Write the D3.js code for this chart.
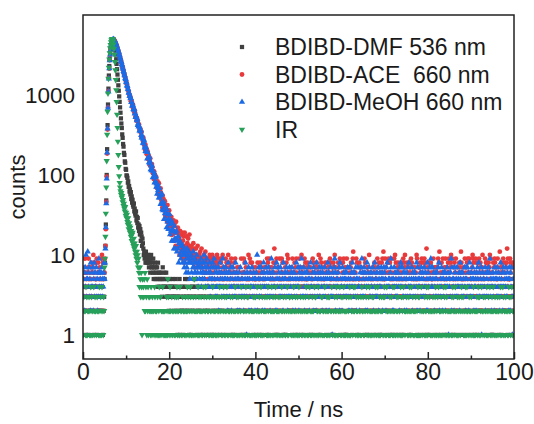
<!DOCTYPE html>
<html>
<head>
<meta charset="utf-8">
<script src="https://cdn.jsdelivr.net/npm/d3@7"></script>
<style>
  html, body { margin: 0; padding: 0; background: #fff; }
  svg text { font-family: "Liberation Sans", Arial, sans-serif; fill: #1a1a1a; }
</style>
</head>
<body>
<svg id="chart" width="534" height="424"></svg>
<script>
// channel width of the decay histograms (ns)
var timeStep = 0.1;

var xTicks = [0, 20, 40, 60, 80, 100];
var xMinorTicks = [10, 30, 50, 70, 90];
var yTicks = [1, 10, 100, 1000];
var seriesNames = ["BDIBD-DMF 536 nm", "BDIBD-ACE  660 nm", "BDIBD-MeOH 660 nm", "IR"];

// each curve: head = counts 0.0-4.9 ns, peak = counts from 5.0 ns, tail = rest (one base-36 digit per channel)
var dmfHead = "3245234132 4231352423 2342413524 3421532342 4232451323";
var dmfPeak = [
  5, 8, 13, 24, 48, 100, 210, 420, 760, 1200,
  1750, 2300, 2850, 3350, 3800, 4150, 4450, 4700, 4850, 4950,
  4950, 4850, 4650, 4350, 4000, 3600, 3200, 2800, 2450, 2100,
  1800, 1550, 1320, 1130, 960, 820, 700, 600, 510, 440,
  386, 322, 291, 244, 226, 189, 178, 148, 142, 119,
  116, 99, 97, 92, 80, 83, 71, 73, 62, 66,
  57, 61, 50, 54, 45, 49, 42, 40, 44, 35,
  38, 33, 31, 35, 27, 30, 25, 29, 22, 24,
  20, 23, 18, 21, 15, 19, 17, 13, 16, 14
];
var dmfTail =
  "cab9a8b98a 98a79869a7 7869576857 6574856465 5463574546 4536435342 3453424353 4324352431 " +
  "3243512342 2431324523 4325231432 3142423354 2354132423 " +
  "4231352413 3524231342 2413532431 3251424323 4132352412 " +
  "3425213453 2341432325 5231342413 3423152432 2354213342 " +
  "4132432513 3241523423 2423314352 4315232431 3242513324 " +
  "2534231423 4213342532 3342152431 2431423352 4235132413 " +
  "3142532342 2453213432 4321342513 3234251423 2413432352 " +
  "5231423341 3342512432 2423341352 4132523423 3245132432 " +
  "2341452313 4231324253 3524231432 2432513341 4312342523 " +
  "3243152432 2524313423 4132432352 3421523241 2342314523 " +
  "4253132342 3142423531 2431524323 5323142432 3241352413 " +
  "2432413352 4313524231 3242153423 2534231342 4123432532 " +
  "3352412324 2431342532 4213523241 3342132453 2524314232 " +
  "4231352423 3142432351 2453124323 3321452431 4232513342 " +
  "2342413523 3524132342 4231324533 2413542321 3342153242 " +
  "4213235423 2534142332 3242513421 4321342352 2432153423 " +
  "3143252432 4232413523 2351432342";

var aceHead = "7536496253 6479536375 4867a26485 5396482657 6359a48526";
var acePeak = [
  6, 9, 13, 21, 46, 95, 185, 370, 700, 1120,
  1620, 2130, 2720, 3180, 3670, 4030, 4370, 4590, 4790, 4910,
  4940, 4960, 4910, 4790, 4720, 4570, 4460, 4290, 4170, 3990,
  3870, 3690, 3570, 3390, 3270, 3090, 2980, 2810, 2700, 2550,
  2450, 2310, 2220, 2090, 2010, 1890, 1820, 1710, 1650, 1550,
  1490, 1400, 1350, 1260, 1220, 1140, 1100, 1030, 1000, 932,
  945, 837, 852, 832, 770, 707, 755, 673, 664, 607,
  639, 597, 541, 540, 480, 518, 470, 473, 417, 411,
  428, 364, 382, 376, 341, 306, 345, 297, 297, 265,
  292, 270, 237, 242, 207, 237, 209, 215, 182, 181,
  197, 158, 173, 172, 152, 132, 161, 132, 135, 117,
  137, 125, 105, 110, 89, 111, 94, 101, 80, 81,
  94, 69, 82, 83, 70, 57, 79, 60, 64, 52,
  68, 60, 48, 53, 39, 55, 44, 50, 36, 38,
  47, 31, 40, 41, 34, 26, 42, 29, 32, 25,
  36, 31, 23, 27, 18, 30, 23, 27, 18, 20,
  27, 15, 23, 25, 19, 13, 26, 16, 19, 13,
  22, 19, 13, 16, 10, 20, 14, 18, 11, 12,
  19, 9, 15, 17, 13, 8, 19, 11, 13, 9,
  17, 12, 14, 10, 16, 11, 13, 18, 9, 12
];
var aceTail =
  "cad9b8ea7c 9ac8a7d98a a8b97c8796 8a96b76985 9786a97685 a796857958 " +
  "7a86975469 8695a76547 6978568a64 7586947653 5869456473 " +
  "6457325946 5469386275 4365a35928 6485736453 7526384657 " +
  "5867436b54 6753473928 4697536572 3586c54839 6475239536 " +
  "5968425367 3485a69546 6573249625 4867596324 7594637a56 " +
  "6475938257 5867436475 2659384367 4786527a63 6948576425 " +
  "5786423867 7469585247 6857a47536 4685739258 3568496375 " +
  "5397534765 4786359b52 6465938435 5857472564 4369586327 " +
  "7536a46352 6475238476 5369574823 4648596b35 5967423869 " +
  "6485396524 3596a48657 4867526385 6359487a34 5786324867 " +
  "6958473526 7465a95347 5786439628 3497586c54 7568423865 " +
  "5369674527 6475938b36 4586496457 4967523869 6578a49325 " +
  "7486593247 5368476b85 6475239567 3859469426 5647a98523 " +
  "6958346859 4786527a64 3569384867 5867a49526 6485798325 " +
  "7596434b67 5867394258 6478c59435 5968473827";

var meohHead = "4536274a35 5b64735284 3647258364 4735263946 5364735468";
var meohPeak = [
  5, 8, 12, 22, 44, 90, 190, 380, 690, 1100,
  1600, 2150, 2700, 3200, 3650, 4050, 4350, 4600, 4800, 4900,
  4950, 4950, 4880, 4820, 4690, 4600, 4430, 4320, 4130, 4020,
  3830, 3720, 3530, 3420, 3230, 3120, 2940, 2840, 2670, 2580,
  2420, 2340, 2190, 2120, 1980, 1920, 1790, 1740, 1620, 1580,
  1460, 1430, 1320, 1290, 1190, 1170, 1070, 1060, 970, 975,
  903, 911, 811, 812, 731, 758, 739, 665, 651, 669,
  582, 590, 527, 536, 533, 480, 501, 419, 440, 401,
  410, 358, 389, 351, 364, 314, 292, 312, 291, 252,
  280, 248, 268, 220, 230, 198, 221, 196, 199, 160,
  192, 162, 163, 143, 168, 139, 147, 117, 131, 114,
  131, 114, 93, 112, 95, 106, 80, 93, 83, 95,
  71, 78, 58, 77, 64, 69, 52, 69, 52, 55,
  43, 56, 45, 58, 37, 43, 36, 46, 28, 40,
  33, 40, 28, 33, 22, 37, 26, 32, 21, 28,
  24, 32, 18, 26, 20, 27, 15, 21, 25, 15,
  20, 12, 23, 16, 19, 12, 16, 20, 11, 15,
  12, 17, 8, 14, 15, 10, 13, 9, 14, 11
];
var meohTail =
  "b8dac7a8b6 97ca68b958 8a6957b876 9685a76487 5786947568 6a57486974 7465836574 " +
  "5847956374 6354726485 4635947365 5746352864 3657425374 6435836452 " +
  "4536274354 5342635841 3654725364 4273546352 5463a24573 " +
  "3547362458 6425374635 4736253946 5364472358 2457635473 " +
  "4635284536 5473624357 3546375264 6352483547 4265735963 " +
  "5374263546 3645725384 4536274635 5284365473 3657426354 " +
  "4735264583 6254735316 3547962435 5463728354 4275364536 " +
  "5364735247 3546284635 6437255374 4526374936 5374632548 " +
  "2645735364 4537264835 5364372546 3475625374 6352748345 " +
  "4536973524 5274635436 3645274857 4736352643 5263748534 " +
  "3457263546 6354827354 4526375463 5374634258 2645735974 " +
  "4753624536 5364738245 3475265364 6245374615 4536927354 " +
  "5273645374 3546285463 4635374527 5374624835 3645735264 " +
  "4526375483 6354714635 5437263546 3746953425 4635274563 " +
  "5374635248 3546274635 4735364527 5264731354";

var irHead = "2130221413 1202312141 3212041232 2103221241 1321402132";
var irPeak = [
  7, 9, 17, 33, 70, 150, 320, 620, 1050, 1600,
  2200, 2800, 3350, 3850, 4250, 4600, 4850, 5000, 5050, 4950,
  4700, 4300, 3800, 3200, 2600, 2050, 1550, 1150, 820, 570,
  390, 262, 178, 126, 97, 80, 70, 63, 57, 60,
  52, 55, 46, 49, 41, 44, 38, 35, 40, 31,
  34, 29, 32, 26, 24, 29, 21, 25, 23, 19,
  22, 17, 20, 15, 18, 19, 14, 13, 16, 12,
  14, 11, 10, 13, 9, 11, 8, 10, 7, 9
];
var irTail =
  "6475364153 4352624315 2413232142 1320214321 2213012413 " +
  "3120241221 2011321532 1242103212 0213122341 2321140212 " +
  "1302212132 2142301214 3211023152 1230212413 2102321124 " +
  "0312241302 2213102213 1421320121 3102213420 2130124213 " +
  "1223410212 2031221312 1214203121 3210122431 0122312140 " +
  "2313021241 1202132213 3121402123 2014213102 1232021314 " +
  "2103121242 1321203412 0213221301 2412130221 1320412123 " +
  "3021213214 1223102131 2410232102 1302123142 2121304212 " +
  "1232120413 3102214120 2213031221 1420213213 2131022401 " +
  "0221312142 3112204213 1203142121 2321012314 1132201242 " +
  "2410321213 1202131422 3121020341 2013241212 1321302124 " +
  "2102412131 1223021314 3012142201 2131203214 1242110231 " +
  "2301221413 1213402122 0321213241 2142031212 1230121413 " +
  "3121042102 2013212413 1422301212 2130212341 1203141221 " +
  "2312012403 1241320121 2102213142 3120421213 1213021243 " +
  "2031212142 1422103212 2310214121 1202312431 3121042213 " +
  "2013221412 1320412123 2142013212 1231220314 2102413122 " +
  "1320212143 2213041212";

function unpack(head, peak, tail) {
  var digits = function(s) {
    return s.replace(/\s+/g, "").split("").map(function(ch) { return parseInt(ch, 36); });
  };
  return digits(head).concat(peak, digits(tail));
}

var seriesCounts = [
  unpack(dmfHead, dmfPeak, dmfTail),
  unpack(aceHead, acePeak, aceTail),
  unpack(meohHead, meohPeak, meohTail),
  unpack(irHead, irPeak, irTail)
];

var styles = [
  { color: "#404040", type: d3.symbolSquare, size: 18, rotate: 0 },
  { color: "#e8393b", type: d3.symbolCircle, size: 18, rotate: 0 },
  { color: "#1d6ae5", type: d3.symbolTriangle, size: 17, rotate: 0 },
  { color: "#27a05a", type: d3.symbolTriangle, size: 17, rotate: 180 }
];

var plot = { left: 83, right: 514, top: 15, bottom: 359 };

var svg = d3.select("#chart");

var x = d3.scaleLinear().domain([0, 100]).range([plot.left, plot.right]);
var y = d3.scaleLog().domain([0.5, 10000]).range([plot.bottom, plot.top]);

svg.append("clipPath").attr("id", "plotClip")
  .append("rect")
  .attr("x", plot.left).attr("y", plot.top)
  .attr("width", plot.right - plot.left).attr("height", plot.bottom - plot.top);

var dataLayer = svg.append("g").attr("clip-path", "url(#plotClip)");

seriesCounts.forEach(function(counts, k) {
  var st = styles[k];
  var points = counts.map(function(c, i) { return { t: i * timeStep, c: c }; })
    .filter(function(d) { return d.c > 0; });
  var sym = d3.symbol().type(st.type).size(st.size)();
  dataLayer.append("g")
    .selectAll("path")
    .data(points)
    .join("path")
    .attr("d", sym)
    .attr("fill", st.color)
    .attr("transform", function(d) {
      return "translate(" + x(d.t) + "," + y(d.c) + ")" + (st.rotate ? " rotate(" + st.rotate + ")" : "");
    });
});

// frame
svg.append("rect")
  .attr("x", plot.left).attr("y", plot.top)
  .attr("width", plot.right - plot.left).attr("height", plot.bottom - plot.top)
  .attr("fill", "none").attr("stroke", "#222").attr("stroke-width", 1.5);

// bottom axis, inward ticks
var xAxis = svg.append("g")
  .attr("transform", "translate(0," + plot.bottom + ")")
  .call(d3.axisBottom(x).tickValues(xTicks).tickSize(-7).tickPadding(5).tickFormat(d3.format("d")));
xAxis.select(".domain").remove();
xAxis.selectAll(".tick line").attr("stroke", "#222").attr("stroke-width", 1.5);
xAxis.selectAll("text").style("font-size", "23px");

var xMinor = svg.append("g")
  .attr("transform", "translate(0," + plot.bottom + ")")
  .call(d3.axisBottom(x).tickValues(xMinorTicks).tickSize(-3.5).tickFormat(""));
xMinor.select(".domain").remove();
xMinor.selectAll(".tick line").attr("stroke", "#222").attr("stroke-width", 1.5);

var yAxis = svg.append("g")
  .attr("transform", "translate(" + plot.left + ",0)")
  .call(d3.axisLeft(y).tickValues(yTicks).tickSize(0).tickPadding(8).tickFormat(d3.format("d")));
yAxis.select(".domain").remove();
yAxis.selectAll("text").style("font-size", "22.5px");

// axis titles
svg.append("text")
  .attr("transform", "translate(25," + ((plot.top + plot.bottom) / 2) + ") rotate(-90)")
  .attr("text-anchor", "middle")
  .style("font-size", "22px")
  .text("counts");

svg.append("text")
  .attr("x", (plot.left + plot.right) / 2)
  .attr("y", 417)
  .attr("text-anchor", "middle")
  .style("font-size", "22px")
  .text("Time / ns");

// legend
var legend = svg.append("g");
seriesNames.forEach(function(name, k) {
  var st = styles[k];
  var ly = 47 + k * 27.5;
  legend.append("path")
    .attr("d", d3.symbol().type(st.type).size(st.size)())
    .attr("fill", st.color)
    .attr("transform", "translate(242," + ly + ")" + (st.rotate ? " rotate(" + st.rotate + ")" : ""));
  legend.append("text")
    .attr("x", 275)
    .attr("y", ly)
    .attr("dy", "0.36em")
    .style("font-size", "23px")
    .style("white-space", "pre")
    .text(name);
});
</script>
</body>
</html>
